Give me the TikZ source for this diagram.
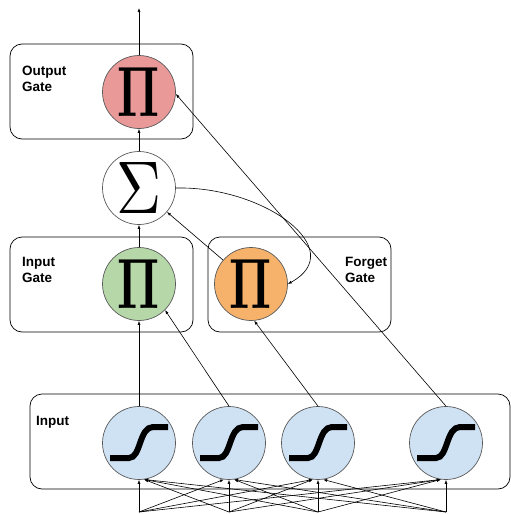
\documentclass[tikz,border=0pt]{standalone}
\usepackage[no-math]{fontspec}
\setmainfont{Liberation Sans}
\usetikzlibrary{arrows.meta}

\definecolor{outred}{HTML}{EA9999}
\definecolor{ingreen}{HTML}{B6D7A8}
\definecolor{fgorange}{HTML}{F6B26B}
\definecolor{sigblue}{HTML}{CFE2F3}
\definecolor{rimgray}{HTML}{595959}

\tikzset{
    unit/.style = {circle, draw=rimgray, line width=0.7pt, minimum size=73pt, inner sep=0pt},
    gatebox/.style = {draw, line width=0.7pt, rounded corners=12pt},
    gatelabel/.style = {anchor=north west, inner sep=0pt, align=left,
                        font=\fontsize{13.5}{16}\selectfont\bfseries},
    conn/.style = {line width=0.6pt, -{Latex[length=4pt,width=3pt]}},
    sigmoid/.pic = {\draw[line width=6pt] (-29,15) -- (-10,15)
                    .. controls (2,15) and (0,-16) .. (14,-16) -- (29,-16);}
}
\newcommand{\prodsym}{\resizebox{42pt}{49pt}{$\mathbf{\Pi}$}}

\begin{document}
\begin{tikzpicture}[x=1pt, y=-1pt]
    \useasboundingbox (0,0) rectangle (511,514);
    % boxes
    \draw[gatebox] (10,44) rectangle (193,139);
    \draw[gatebox] (10,237) rectangle (193,332);
    \draw[gatebox] (208,237) rectangle (391,332);
    \draw[gatebox] (30,394) rectangle (510,489);
    \node[gatelabel] (outlbl) at (22,66) {Output\\Gate};
    \node[gatelabel] (inlbl) at (22,257) {Input\\Gate};
    \node[gatelabel] (fglbl) at (345,257) {Forget\\Gate};
    \node[gatelabel] (xlbl) at (36,416) {Input};
    % units
    \node[unit, fill=outred] (out) at (139,92) {\prodsym};
    \node[unit, fill=white] (sum) at (139,188) {\resizebox{45pt}{51pt}{$\Sigma$}};
    \node[unit, fill=ingreen] (ig) at (139,284) {\prodsym};
    \node[unit, fill=fgorange] (fg) at (251,284) {\prodsym};
    \foreach \n/\x in {1/139, 2/229, 3/318, 4/446}{
        \node[unit, fill=sigblue] (s\n) at (\x,443) {};
        \pic at (s\n) {sigmoid};
        \coordinate (b\n) at (\x,512);
    }
    \coordinate (outtop) at (139,8);
    % connections
    \draw[conn] (out) -- (outtop);
    \draw[conn] (sum) -- (out);
    \draw[conn] (ig) -- (sum);
    \draw[conn] (fg) -- (sum);
    \draw[conn] (sum.east) .. controls (265,186) and (350,250) .. (fg.east);
    \draw[conn] (s1) -- (ig);
    \draw[conn] (s2.north) -- (ig.-45);
    \draw[conn] (s3.north) -- (fg.-85);
    \draw[conn] (s4.north) -- (out.-3);
    % inputs
    \foreach \i in {1,...,4}{
        \foreach \j in {1,...,4}{
            \ifnum\i<\j \def\ang{-98}\else\ifnum\i>\j \def\ang{-82}\else\def\ang{-90}\fi\fi
            \draw[conn] (b\i) -- (s\j.\ang);
        }
    }
\end{tikzpicture}
\end{document}
